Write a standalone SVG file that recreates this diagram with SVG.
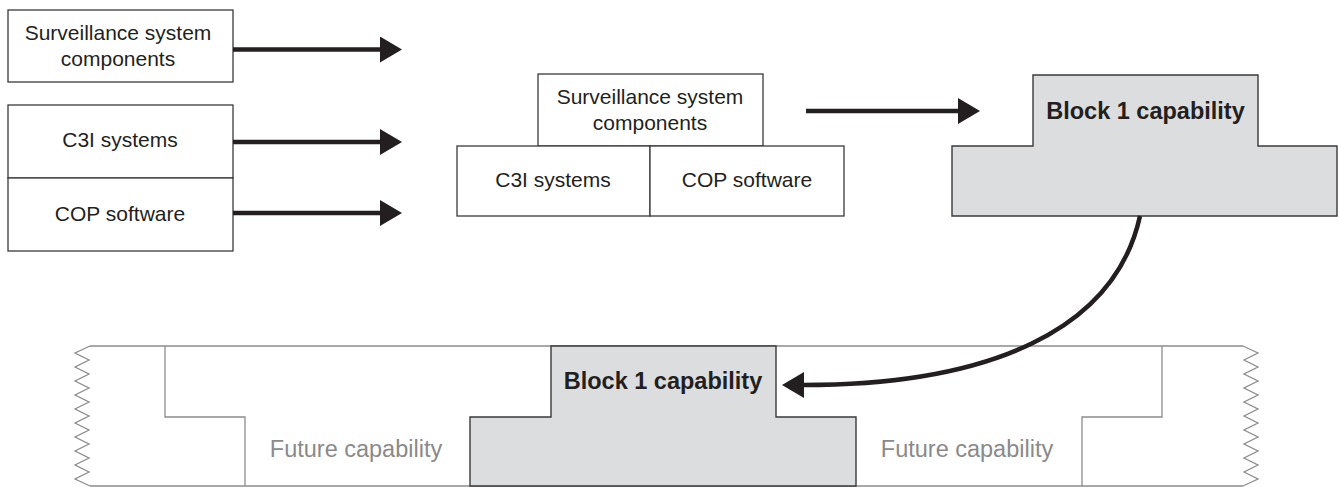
<svg xmlns="http://www.w3.org/2000/svg" width="1339" height="487" viewBox="0 0 1339 487">
  <style>
    .box { fill: #ffffff; stroke: #3a3a3a; stroke-width: 1.3; }
    .block { fill: #dcdddf; stroke: #3a3a3a; stroke-width: 1.4; }
    .band { fill: none; stroke: #8c8c8c; stroke-width: 1.3; }
    .lbl { font-family: "Liberation Sans", Arial, sans-serif; font-size: 21px; fill: #231f20; text-anchor: middle; }
    .bold { font-family: "Liberation Sans", Arial, sans-serif; font-size: 23.5px; font-weight: bold; fill: #231f20; text-anchor: middle; }
    .future { font-family: "Liberation Sans", Arial, sans-serif; font-size: 23.5px; fill: #8a8a8a; text-anchor: middle; }
    .conn { fill: none; stroke: #231f20; stroke-width: 4.5; marker-end: url(#head); }
  </style>
  <defs>
    <marker id="head" markerUnits="userSpaceOnUse" markerWidth="23" markerHeight="26" refX="1" refY="13" orient="auto">
      <path d="M0,0 L22,13 L0,26 z" fill="#231f20"/>
    </marker>
  </defs>

  <rect width="1339" height="487" fill="#ffffff"/>

  <!-- separate components on the left -->
  <g id="surv-left">
    <rect class="box" x="8" y="10" width="225" height="72"/>
    <text class="lbl" x="118" y="40">Surveillance system</text>
    <text class="lbl" x="118" y="66">components</text>
  </g>
  <g id="c3i-left">
    <rect class="box" x="8" y="105" width="225" height="73"/>
    <text class="lbl" x="120" y="147">C3I systems</text>
  </g>
  <g id="cop-left">
    <rect class="box" x="8" y="178" width="225" height="73"/>
    <text class="lbl" x="120" y="221">COP software</text>
  </g>

  <!-- integrated stack in the middle -->
  <g id="surv-mid">
    <rect class="box" x="538" y="74" width="225" height="72"/>
    <text class="lbl" x="650" y="104">Surveillance system</text>
    <text class="lbl" x="650" y="129.5">components</text>
  </g>
  <g id="c3i-mid">
    <rect class="box" x="457" y="146" width="193" height="70"/>
    <text class="lbl" x="553" y="187">C3I systems</text>
  </g>
  <g id="cop-mid">
    <rect class="box" x="650" y="146" width="194" height="70"/>
    <text class="lbl" x="747" y="187">COP software</text>
  </g>

  <!-- Block 1 result -->
  <g id="block1-top">
    <path class="block" d="M952,216 L952,146 L1033,146 L1033,75 L1258,75 L1258,146 L1337,146 L1337,216 Z"/>
    <text class="bold" x="1145.5" y="118.5">Block 1 capability</text>
  </g>

  <!-- capability roadmap band -->
  <g id="roadmap">
    <path class="band" d="M90,346 L1243,346 M90,486 L1243,486"/>
    <path class="band" d="M90,346 L75,353 L89,360 L75,367 L89,374 L75,381 L89,388 L75,395 L89,402 L75,409 L89,416 L75,423 L89,430 L75,437 L89,444 L75,451 L89,458 L75,465 L89,472 L75,479 L90,486"/>
    <path class="band" d="M1243,346 L1258,353 L1244,360 L1258,367 L1244,374 L1258,381 L1244,388 L1258,395 L1244,402 L1258,409 L1244,416 L1258,423 L1244,430 L1258,437 L1244,444 L1258,451 L1244,458 L1258,465 L1244,472 L1258,479 L1243,486"/>
    <path class="band" d="M165,346 L165,417 L245,417 L245,486"/>
    <path class="band" d="M1162,346 L1162,417 L1082,417 L1082,486"/>
    <text class="future" x="356" y="457">Future capability</text>
    <text class="future" x="967" y="457">Future capability</text>
  </g>
  <g id="block1-bottom">
    <path class="block" d="M470,486 L470,417 L551,417 L551,346 L776,346 L776,417 L856,417 L856,486 Z"/>
    <text class="bold" x="663" y="388.5">Block 1 capability</text>
  </g>

  <!-- connectors -->
  <g id="connectors">
    <path class="conn" d="M233,49.5 L381,49.5"/>
    <path class="conn" d="M233,142 L381,142"/>
    <path class="conn" d="M233,213 L381,213"/>
    <path class="conn" d="M806,111 L959,111"/>
    <path class="conn" d="M1140,216 C1115,330 990,385 803,385"/>
  </g>
</svg>
